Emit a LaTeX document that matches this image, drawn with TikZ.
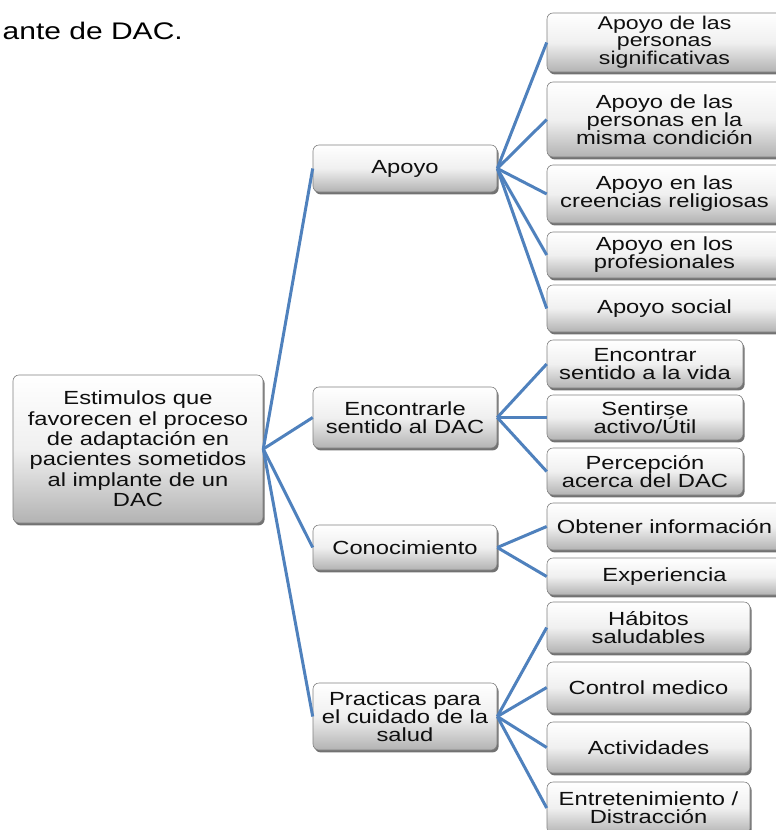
\documentclass[tikz,border=0pt]{standalone}
\usepackage{fontspec}
\setmainfont{Liberation Sans}[FakeStretch=1.25]
\usetikzlibrary{shadows}
\definecolor{linkblue}{RGB}{79,129,189}
\definecolor{txt}{RGB}{15,15,15}
\tikzset{
  box/.style={rectangle, rounded corners=6pt, draw=black!50, line width=0.6pt,
    top color=white, bottom color=black!30, middle color=black!6,
    drop shadow={shadow xshift=1.6pt, shadow yshift=-2.4pt, fill=black!65, opacity=0.85},
    align=center, inner sep=0pt, text=txt, font=\fontsize{19}{18}\selectfont},
  link/.style={draw=linkblue, line width=3pt}
}
\begin{document}
\begin{tikzpicture}[x=1pt,y=-1pt]
\useasboundingbox (0,0) rectangle (776,830);
\node[anchor=base east, inner sep=0pt, text=black, font=\fontsize{24}{24}\selectfont] (title) at (183,39) {ante de DAC.};
% root
\node[box, minimum width=250pt, minimum height=148pt, font=\fontsize{19}{20.4}\selectfont] (root) at (138,449)
  {Estimulos que\\favorecen el proceso\\de adaptación en\\pacientes sometidos\\al implante de un\\DAC};
% level 2
\node[box, minimum width=184pt, minimum height=47pt] (apoyo) at (405,168.5) {Apoyo};
\node[box, minimum width=184pt, minimum height=61pt] (enc) at (405,417.5) {Encontrarle\\sentido al DAC};
\node[box, minimum width=184pt, minimum height=45pt] (con) at (405,547.5) {Conocimiento};
\node[box, minimum width=184pt, minimum height=67pt] (prac) at (405,716.5) {Practicas para\\el cuidado de la\\salud};
% apoyo children
\node[box, minimum width=235pt, minimum height=59pt, font=\fontsize{18.5}{17}\selectfont] (a1) at (664.5,42.5) {Apoyo de las\\personas\\significativas};
\node[box, minimum width=235pt, minimum height=75pt] (a2) at (664.5,119.5) {Apoyo de las\\personas en la\\misma condición};
\node[box, minimum width=235pt, minimum height=58pt] (a3) at (664.5,194) {Apoyo en las\\creencias religiosas};
\node[box, minimum width=235pt, minimum height=46pt] (a4) at (664.5,255) {Apoyo en los\\profesionales};
\node[box, minimum width=235pt, minimum height=47pt] (a5) at (664.5,308.5) {Apoyo social};
% enc children
\node[box, minimum width=196pt, minimum height=48pt] (e1) at (645,364) {Encontrar\\sentido a la vida};
\node[box, minimum width=196pt, minimum height=45pt] (e2) at (645,417.5) {Sentirse\\activo/Útil};
\node[box, minimum width=196pt, minimum height=47pt] (e3) at (645,471.5) {Percepción\\acerca del DAC};
% con children
\node[box, minimum width=235pt, minimum height=47pt] (c1) at (664.5,526.5) {Obtener información};
\node[box, minimum width=235pt, minimum height=37pt] (c2) at (664.5,576.5) {Experiencia};
% prac children
\node[box, minimum width=203pt, minimum height=51pt] (p1) at (648.5,627.5) {Hábitos\\saludables};
\node[box, minimum width=203pt, minimum height=51pt] (p2) at (648.5,687.5) {Control medico};
\node[box, minimum width=203pt, minimum height=51pt] (p3) at (648.5,747.5) {Actividades};
\node[box, minimum width=203pt, minimum height=52pt] (p4) at (648.5,808) {Entretenimiento /\\Distracción};
% connectors
\foreach \c in {apoyo,enc,con,prac} \draw[link] (root.east) -- (\c.west);
\foreach \c in {a1,a2,a3,a4,a5} \draw[link] (apoyo.east) -- (\c.west);
\foreach \c in {e1,e2,e3} \draw[link] (enc.east) -- (\c.west);
\foreach \c in {c1,c2} \draw[link] (con.east) -- (\c.west);
\foreach \c in {p1,p2,p3,p4} \draw[link] (prac.east) -- (\c.west);
\end{tikzpicture}
\end{document}
